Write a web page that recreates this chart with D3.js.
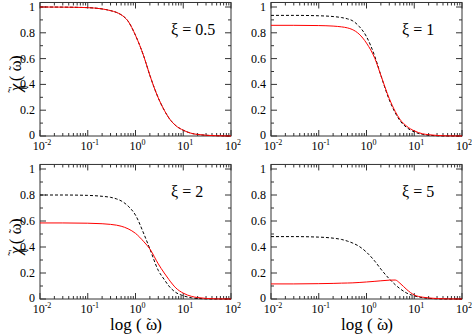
<!DOCTYPE html>
<meta charset="utf-8">
<html>
<head>
<script src="https://cdn.jsdelivr.net/npm/d3@7"></script>
<style>
  body { margin: 0; background: #fff; }
  svg text { font-family: "Liberation Serif", "DejaVu Serif", serif !important; fill: #000; }
  .frame { fill: none; stroke: #333; stroke-width: 1px; }
  .tick { stroke: #333; stroke-width: 1px; }
</style>
</head>
<body>
<svg width="472" height="335"></svg>
<script>
// ---- data ----
var omega = [0.01, 0.03, 0.1, 0.2, 0.3, 0.4, 0.5, 0.7, 1, 1.5, 2, 3, 4, 5, 7, 10, 15, 20, 50, 100];

var xi = ["0.5", "1", "2", "5"];

// red solid curves
var red05 = [1.0, 0.999, 0.995, 0.985, 0.972, 0.958, 0.94, 0.89, 0.78, 0.615, 0.47, 0.295, 0.2, 0.14, 0.08, 0.045, 0.02, 0.012, 0.002, 0.0];
var red1  = [0.858, 0.858, 0.856, 0.852, 0.846, 0.838, 0.826, 0.79, 0.72, 0.60, 0.47, 0.29, 0.19, 0.13, 0.075, 0.04, 0.017, 0.01, 0.001, 0.0];
var red2  = [0.585, 0.585, 0.583, 0.579, 0.574, 0.568, 0.56, 0.54, 0.505, 0.44, 0.385, 0.27, 0.2, 0.15, 0.085, 0.045, 0.02, 0.011, 0.001, 0.0];
var red5  = [0.116, 0.116, 0.118, 0.12, 0.122, 0.123, 0.124, 0.127, 0.131, 0.136, 0.14, 0.145, 0.146, 0.122, 0.072, 0.031, 0.014, 0.008, 0.001, 0.0];

// black dashed curves
var blk05 = red05;
var blk1  = [0.935, 0.935, 0.932, 0.926, 0.918, 0.908, 0.895, 0.85, 0.77, 0.615, 0.47, 0.28, 0.18, 0.12, 0.065, 0.032, 0.012, 0.006, 0.0, 0.0];
var blk2  = [0.80, 0.80, 0.797, 0.79, 0.782, 0.77, 0.755, 0.715, 0.645, 0.50, 0.385, 0.22, 0.15, 0.10, 0.05, 0.025, 0.009, 0.004, 0.0, 0.0];
var blk5  = [0.48, 0.48, 0.476, 0.468, 0.458, 0.445, 0.432, 0.405, 0.36, 0.29, 0.23, 0.155, 0.11, 0.08, 0.045, 0.024, 0.01, 0.005, 0.0, 0.0];

var panels = [
  { xi: xi[0], red: red05, blk: blk05, x0: 40,  x1: 231, y0: 136, yTop: 7 },
  { xi: xi[1], red: red1,  blk: blk1,  x0: 271, x1: 462, y0: 136, yTop: 7 },
  { xi: xi[2], red: red2,  blk: blk2,  x0: 40,  x1: 231, y0: 299, yTop: 169 },
  { xi: xi[3], red: red5,  blk: blk5,  x0: 271, x1: 462, y0: 299, yTop: 169 }
];

var xMajor = [0.01, 0.1, 1, 10, 100];
var xExp = ["-2", "-1", "0", "1", "2"];
var yMajor = [0, 0.2, 0.4, 0.6, 0.8, 1];
var yLabels = ["0", "0.2", "0.4", "0.6", "0.8", "1"];

var svg = d3.select("svg");

panels.forEach(function(p) {
  var x = d3.scaleLog().domain([0.01, 100]).range([p.x0, p.x1]);
  var y = d3.scaleLinear().domain([0, 1]).range([p.y0, p.yTop]);
  var top = y(1.035);

  var g = svg.append("g");

  // minor x ticks
  var minors = [];
  for (var e = -2; e < 2; e++) {
    for (var m = 2; m <= 9; m++) minors.push(m * Math.pow(10, e));
  }
  minors.forEach(function(v) {
    g.append("line").attr("class", "tick")
      .attr("x1", x(v)).attr("x2", x(v)).attr("y1", p.y0).attr("y2", p.y0 - 3);
    g.append("line").attr("class", "tick")
      .attr("x1", x(v)).attr("x2", x(v)).attr("y1", top).attr("y2", top + 3);
  });
  xMajor.forEach(function(v, i) {
    g.append("line").attr("class", "tick")
      .attr("x1", x(v)).attr("x2", x(v)).attr("y1", p.y0).attr("y2", p.y0 - 6);
    g.append("line").attr("class", "tick")
      .attr("x1", x(v)).attr("x2", x(v)).attr("y1", top).attr("y2", top + 6);
    var t = g.append("text").attr("x", x(v) + 2).attr("y", p.y0 + 14)
      .attr("text-anchor", "middle").style("font-size", "12px");
    t.append("tspan").text("10");
    t.append("tspan").attr("dy", -5).style("font-size", "8px").text(xExp[i]);
  });

  // y ticks
  d3.range(0.1, 1.01, 0.2).forEach(function(v) {
    g.append("line").attr("class", "tick")
      .attr("x1", p.x0).attr("x2", p.x0 + 3).attr("y1", y(v)).attr("y2", y(v));
    g.append("line").attr("class", "tick")
      .attr("x1", p.x1).attr("x2", p.x1 - 3).attr("y1", y(v)).attr("y2", y(v));
  });
  yMajor.forEach(function(v, i) {
    g.append("line").attr("class", "tick")
      .attr("x1", p.x0).attr("x2", p.x0 + 6).attr("y1", y(v)).attr("y2", y(v));
    g.append("line").attr("class", "tick")
      .attr("x1", p.x1).attr("x2", p.x1 - 6).attr("y1", y(v)).attr("y2", y(v));
    g.append("text").attr("x", p.x0 - 5).attr("y", y(v) + (i === 0 ? 3 : 4))
      .attr("text-anchor", "end").style("font-size", "12px").text(yLabels[i]);
  });

  g.append("rect").attr("class", "frame")
    .attr("x", p.x0).attr("y", top).attr("width", p.x1 - p.x0).attr("height", p.y0 - top);

  var line = d3.line()
    .x(function(d) { return x(d[0]); })
    .y(function(d) { return y(d[1]); })
    .curve(d3.curveMonotoneX);

  g.append("path").datum(d3.zip(omega, p.blk))
    .attr("d", line).attr("fill", "none")
    .attr("stroke", "#000").attr("stroke-width", 1).attr("stroke-dasharray", "3,2");
  g.append("path").datum(d3.zip(omega, p.red))
    .attr("d", line).attr("fill", "none")
    .attr("stroke", "#ff0000").attr("stroke-width", 1);

  g.append("text").attr("x", p.x0 + 131).attr("y", p.yTop + 28)
    .style("font-size", "16px")
    .text("\u03BE = " + p.xi);
});

// a letter with a small tilde set above it
function tilded(t, ch, w) {
  t.append("tspan").text(ch);
  t.append("tspan").attr("dx", -w).attr("dy", -3).style("font-size", "12px").text("\u02DC");
  t.append("tspan").attr("dy", 3).attr("dx", 0).text("");
}

// y axis titles
[74, 237].forEach(function(cy) {
  var t = svg.append("text")
    .attr("transform", "translate(21," + cy + ") rotate(-90)")
    .attr("text-anchor", "middle").style("font-size", "17px");
  t.append("tspan").style("font-style", "italic").text("\u03C7");
  t.append("tspan").attr("dx", -9).attr("dy", -4).style("font-size", "12px").text("\u02DC");
  t.append("tspan").attr("dx", 0).attr("dy", -1).style("font-size", "11px").text("'");
  t.append("tspan").attr("dx", -3).attr("dy", 10).style("font-size", "9px").text("\u2225");
  t.append("tspan").attr("dy", -5).text(" ( \u03C9");
  t.append("tspan").attr("dx", -10).attr("dy", -3).style("font-size", "12px").text("\u02DC");
  t.append("tspan").attr("dx", 1).attr("dy", 3).text(" )");
});

// x axis titles
[136, 367].forEach(function(cx) {
  var t = svg.append("text").attr("x", cx).attr("y", 330)
    .attr("text-anchor", "middle").style("font-size", "17px");
  t.append("tspan").text("log ( \u03C9");
  t.append("tspan").attr("dx", -10).attr("dy", -3).style("font-size", "12px").text("\u02DC");
  t.append("tspan").attr("dx", 1).attr("dy", 3).text(" )");
});
</script>
</body>
</html>
